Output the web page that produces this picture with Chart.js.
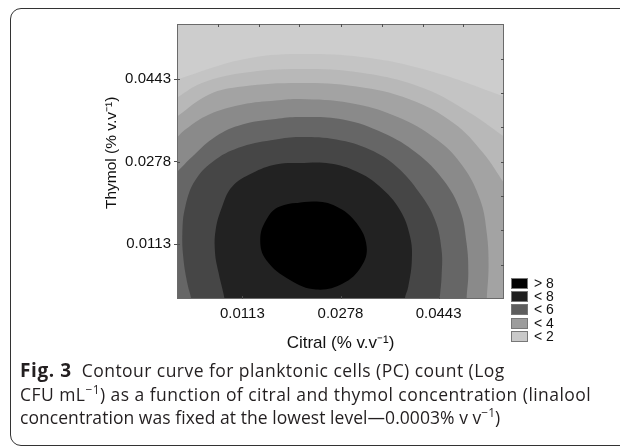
<!DOCTYPE html>
<html><head><meta charset="utf-8">
<script src="https://cdn.jsdelivr.net/npm/chart.js@4.4.1/dist/chart.umd.min.js"></script>
<style>
html,body{margin:0;padding:0;background:#fff;}
body{width:620px;height:446px;overflow:hidden;position:relative;}
#frame{position:absolute;left:10px;top:8px;width:680px;height:438px;border:1px solid #333;border-radius:11px;box-sizing:border-box;}
#wrap{position:absolute;left:0;top:0;width:620px;height:360px;}
#cap{position:absolute;left:20px;top:359px;font-family:'Open Sans',sans-serif;font-size:17.5px;line-height:23.5px;color:#231f20;white-space:nowrap;}
#cap div{height:23.5px;}
#cap b{font-weight:700;font-size:19px;letter-spacing:0.6px;}
#cap sup{font-size:0.68em;line-height:0;vertical-align:0.55em;}
</style></head><body>
<div id="frame"></div>
<div id="wrap"><canvas id="c" width="620" height="360"></canvas></div>
<div id="cap"><div style="letter-spacing:0.45px"><b>Fig. 3</b>&nbsp; Contour curve for planktonic cells (PC) count (Log</div><div style="letter-spacing:0.45px">CFU mL<sup>−1</sup>) as a function of citral and thymol concentration (linalool</div><div style="letter-spacing:0.05px">concentration was fixed at the lowest level—0.0003% v v<sup>−1</sup>)</div></div>
<script>
// ---- data ----
const axisMin = 0.0003, axisMax = 0.0553;
const xTickValues = [0.0113, 0.0278, 0.0443];
const yTickValues = [0.0113, 0.0278, 0.0443];
const boxTickValues = [0.0072, 0.0141, 0.0209, 0.0278, 0.0347, 0.0416, 0.0484];
const xTitle = 'Citral (% v.v\u207B\u00B9)';
const yTitle = '    Thymol (% v.v\u207B\u00B9)';
const legendLabels = ['> 8', '< 8', '< 6', '< 4', '< 2'];

// contour lines, [citral, thymol], innermost first
const contourAbove8 = [[0.0176,0.0188],[0.0232,0.0198],[0.0271,0.0188],[0.0305,0.0155],[0.0322,0.0108],[0.0313,0.0068],[0.0282,0.0034],[0.0237,0.0022],[0.0193,0.0041],[0.0153,0.0081],[0.0143,0.0121],[0.0153,0.0161],[0.0176,0.0188],[0.0232,0.0198]];
const contour7 = [[0.0086,-0.003],[0.0083,0.0003],[0.0073,0.0055],[0.0067,0.0095],[0.0068,0.0141],[0.0079,0.0188],[0.0096,0.0228],[0.0130,0.0255],[0.0169,0.0272],[0.0209,0.0275],[0.0260,0.0274],[0.0305,0.0258],[0.0344,0.0228],[0.0378,0.0181],[0.0395,0.0128],[0.0398,0.0081],[0.0392,0.0028],[0.0386,0.0003],[0.0384,-0.003]];
const contour6 = [[0.0030,-0.003],[0.0027,0.0003],[0.0021,0.0031],[0.0014,0.0081],[0.0012,0.0135],[0.0017,0.0188],[0.0034,0.0241],[0.0068,0.0282],[0.0113,0.0308],[0.0169,0.0322],[0.0209,0.0327],[0.0271,0.0322],[0.0327,0.0302],[0.0372,0.0268],[0.0411,0.0215],[0.0437,0.0161],[0.0448,0.0101],[0.0448,0.0048],[0.0445,0.0003],[0.0444,-0.003]];
const contour5 = [[-0.0036,0.0211],[0.0003,0.0257],[0.0029,0.0288],[0.0068,0.0328],[0.0113,0.0352],[0.0169,0.0363],[0.0209,0.0367],[0.0282,0.0362],[0.0350,0.0335],[0.0406,0.0295],[0.0451,0.0241],[0.0479,0.0181],[0.0490,0.0115],[0.0493,0.0055],[0.0490,0.0003],[0.0489,-0.004],[-0.006,-0.004]];
const contour4 = [[-0.0025,0.0294],[0.0003,0.0326],[0.0017,0.0342],[0.0057,0.0372],[0.0113,0.0392],[0.0169,0.0400],[0.0209,0.0403],[0.0294,0.0395],[0.0372,0.0368],[0.0440,0.0322],[0.0484,0.0268],[0.0513,0.0201],[0.0524,0.0135],[0.0527,0.0068],[0.0524,0.0003],[0.0523,-0.004],[-0.006,-0.004]];
const contour3 = [[-0.0024,0.0346],[0.0003,0.0368],[0.0057,0.0412],[0.0113,0.0428],[0.0209,0.0435],[0.0305,0.0428],[0.0395,0.0402],[0.0468,0.0355],[0.0518,0.0295],[0.0553,0.0235],[0.0571,0.0204],[0.060,-0.004],[-0.006,-0.004]];
const contour2 = [[-0.0025,0.0387],[0.0003,0.0406],[0.0045,0.0435],[0.0113,0.0455],[0.0209,0.0463],[0.0316,0.0455],[0.0417,0.0425],[0.0496,0.0375],[0.0553,0.0328],[0.0580,0.0306],[0.060,-0.004],[-0.006,-0.004]];
const contour1 = [[-0.0030,0.0430],[0.0003,0.0442],[0.0113,0.0482],[0.0209,0.0493],[0.0327,0.0485],[0.0440,0.0455],[0.0553,0.0408],[0.0580,0.0397],[0.060,-0.004],[-0.006,-0.004]];
const contours = [contourAbove8, contour7, contour6, contour5, contour4, contour3, contour2, contour1];

// ---- styles ----
const bandColors = ['#000000','#222222','#464646','#666666','#8a8a8a','#a3a3a3','#b8b8b8','#c4c4c4'];
const plotBackground = '#cdcdcd';
const legendColors = ['#000000','#1f1f1f','#5e5e5e','#9c9c9c','#c9c9c9'];
const axisFont = {family: "'Liberation Sans', Arial, sans-serif", size: 15};
const xTitleFont = {family: "'Liberation Sans', Arial, sans-serif", size: 17};
const yTitleFont = {family: "'Liberation Sans', Arial, sans-serif", size: 15.5};

const decor = {
  id: 'decor',
  beforeDatasetsDraw(chart) {
    const {ctx, chartArea: a} = chart;
    ctx.save();
    ctx.fillStyle = plotBackground;
    ctx.fillRect(a.left, a.top, a.right - a.left, a.bottom - a.top);
    ctx.restore();
  },
  afterDraw(chart) {
    const {ctx, chartArea: a, scales: {x, y}} = chart;
    ctx.save();
    ctx.strokeStyle = '#6a6a6a';
    ctx.lineWidth = 1;
    ctx.strokeRect(a.left + 0.5, a.top + 0.5, a.right - a.left - 1, a.bottom - a.top - 1);
    ctx.strokeStyle = '#505050';
    ctx.beginPath();
    boxTickValues.forEach(v => {
      const px = Math.round(x.getPixelForValue(v)) + 0.5;
      ctx.moveTo(px, a.top); ctx.lineTo(px, a.top + 3);
      const py = Math.round(y.getPixelForValue(v)) + 0.5;
      ctx.moveTo(a.right, py); ctx.lineTo(a.right - 3, py);
    });
    xTickValues.forEach(v => {
      const px = Math.round(x.getPixelForValue(v)) + 0.5;
      ctx.moveTo(px, a.bottom); ctx.lineTo(px, a.bottom - 3);
    });
    yTickValues.forEach(v => {
      const py = Math.round(y.getPixelForValue(v)) + 0.5;
      ctx.moveTo(a.left, py); ctx.lineTo(a.left + 3, py);
    });
    ctx.stroke();
    // legend
    const bx = a.right + 7, by0 = a.bottom - 21, pitch = 13.2;
    ctx.font = "14px 'Liberation Sans', Arial, sans-serif";
    ctx.textBaseline = 'middle';
    ctx.textAlign = 'left';
    legendLabels.forEach((lab, i) => {
      const by = Math.round(by0 + i * pitch);
      ctx.fillStyle = legendColors[i];
      ctx.fillRect(bx, by, 17, 11);
      ctx.strokeStyle = '#777';
      ctx.strokeRect(bx + 0.5, by + 0.5, 16, 10);
      ctx.fillStyle = '#111';
      ctx.fillText(lab, bx + 23, by + 6);
    });
    ctx.restore();
  }
};

const datasets = contours.map((pts, i) => ({
  data: pts.map(p => ({x: p[0], y: p[1]})),
  showLine: true,
  fill: 'shape',
  backgroundColor: bandColors[i],
  borderColor: 'rgba(0,0,0,0)',
  borderWidth: 0,
  pointRadius: 0,
  tension: 0.4
}));

new Chart(document.getElementById('c'), {
  type: 'scatter',
  data: {datasets},
  plugins: [decor],
  options: {
    responsive: false,
    animation: false,
    events: [],
    layout: {padding: {left: 100, right: 116, top: 24, bottom: 6}},
    elements: {line: {capBezierPoints: false}},
    plugins: {legend: {display: false}, tooltip: {enabled: false}},
    scales: {
      x: {
        type: 'linear', position: 'bottom', min: axisMin, max: axisMax,
        afterBuildTicks: s => { s.ticks = xTickValues.map(v => ({value: v})); },
        afterFit: s => { s.height = 55; },
        grid: {display: false, drawTicks: false},
        border: {display: false},
        ticks: {font: axisFont, color: '#111', padding: 6, maxRotation: 0, callback: v => v.toFixed(4)},
        title: {display: true, text: xTitle, font: xTitleFont, color: '#111', padding: {top: 0, bottom: 0}}
      },
      y: {
        type: 'linear', position: 'left', min: axisMin, max: axisMax,
        afterBuildTicks: s => { s.ticks = yTickValues.map(v => ({value: v})); },
        afterFit: s => { s.width = 77; },
        grid: {display: true, drawOnChartArea: false, drawTicks: true, tickLength: 3, color: '#505050'},
        border: {display: false},
        ticks: {font: axisFont, color: '#111', padding: 3, callback: v => v.toFixed(4)},
        title: {display: true, text: yTitle, font: yTitleFont, color: '#111', padding: {top: 2, bottom: 0}}
      }
    }
  }
});
</script>
</body></html>
